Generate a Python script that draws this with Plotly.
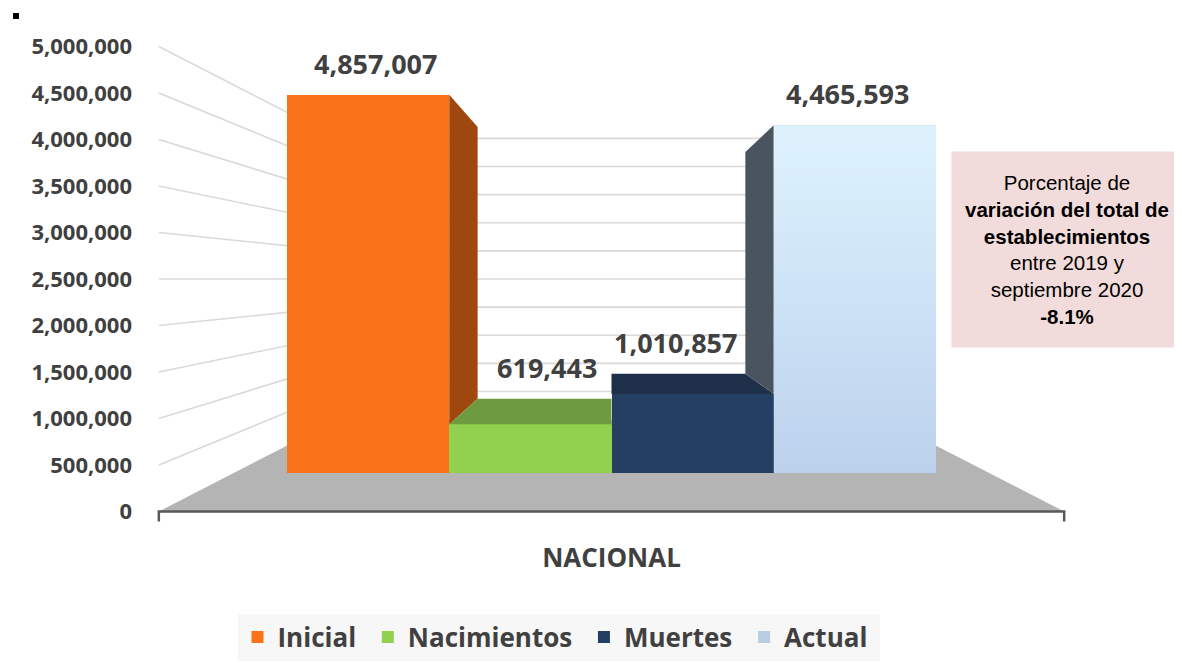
import plotly.graph_objects as go

# ---------------- data ----------------
categories = ["Inicial", "Nacimientos", "Muertes", "Actual"]
values = [4857007, 619443, 1010857, 4465593]
group_label = "NACIONAL"
y_ticks = [0, 500000, 1000000, 1500000, 2000000, 2500000, 3000000,
           3500000, 4000000, 4500000, 5000000]
box_lines = ["Porcentaje de", "<b>variación del total de</b>", "<b>establecimientos</b>",
             "entre 2019 y", "septiembre 2020", "<b>-8.1%</b>"]

# ---------------- style ----------------
front_colors = ["#fa7319", "#92d050", "#243f61", "#b8cce4"]
face_colors = ["#9f470f", "#6f9b40", "#1e3049", "#4a545e"]
actual_grad = [[0, "#bcd2ec"], [1, "#def2fe"]]
TXT = "#404040"
BOLDF = "Open Sans, sans-serif"
ARIAL = "Liberation Sans, Arial, sans-serif"

W, H = 1182, 663
OFF = 8                                        # page body margin
PL, PR, PT, PB = 150, 1182, 20, 540            # plot area in page px
X0_PX, X_PX_PER = 287.0, 162.25                # bar units -> px
Y_ZERO_PX, Y_PX_PER = 511.5, 93.0 / 1e6        # front (labelled) plane
B_ZERO_PX, B_PX_PER = 472.5, 77.76 / 1e6       # bar front faces plane

VX = 2.0          # vanishing point x (bar units)
VV = 2.5e6        # vanishing point height
BAR_DEPTH = 0.825
WALL_DEPTH = 0.605
FLOOR_HALF = 2.79
AXIS_TICK_PX = 10
LABEL_SHIFT = 11


def px_to_paper_x(px):
    return (px - PL) / (PR - PL)


def px_to_paper_y(py):
    return (PB - py) / (PB - PT)


def back(v, d):
    return VV + d * (v - VV)


def backx(x, d):
    return VX + d * (x - VX)


fig = go.Figure()

# front faces (real bars)
for i, (c, v) in enumerate(zip(categories, values)):
    fig.add_trace(go.Bar(
        x=[i + 0.5], y=[v], width=[1], name=c + "\u00a0", yaxis="y2",
        marker=dict(color=front_colors[i], line=dict(width=0)),
        hovertemplate=c + ": %{y:,}<extra></extra>",
    ))

# 3D faces derived from the values
n = len(values)
for i, v in enumerate(values):
    xl, xr = i, i + 1
    if v > VV:
        if xr <= VX:
            xe, nb = xr, values[i + 1] if i + 1 < n else 0
        else:
            xe, nb = xl, values[i - 1] if i > 0 else 0
        xs = [xe, backx(xe, BAR_DEPTH), backx(xe, BAR_DEPTH), xe, xe]
        ys = [v, back(v, BAR_DEPTH), back(nb, BAR_DEPTH), nb, v]
    else:
        xs = [xl, xr, backx(xr, BAR_DEPTH), backx(xl, BAR_DEPTH), xl]
        ys = [v, v, back(v, BAR_DEPTH), back(v, BAR_DEPTH), v]
    fig.add_trace(go.Scatter(
        x=xs, y=ys, yaxis="y2", mode="lines", fill="toself",
        fillcolor=face_colors[i], line=dict(width=0, color=face_colors[i]),
        showlegend=False, hoverinfo="skip",
    ))

# gradient on the "Actual" front face
ia = categories.index("Actual")
fig.add_trace(go.Scatter(
    x=[ia, ia + 1, ia + 1, ia, ia], y=[0, 0, values[ia], values[ia], 0],
    yaxis="y2", mode="lines", fill="toself", line=dict(width=0),
    fillgradient=dict(type="vertical", colorscale=actual_grad, start=0, stop=values[ia]),
    showlegend=False, hoverinfo="skip",
))

# data labels
for i, v in enumerate(values):
    xc = i + 0.5
    k = 0.97 if v > VV else 0.79
    top = max(v, back(v, BAR_DEPTH))
    fig.add_annotation(
        x=backx(xc, k), y=top, xref="x", yref="y2", yanchor="bottom",
        text=f"{v:,}", showarrow=False, yshift=LABEL_SHIFT,
        font=dict(family=BOLDF, size=27, color=TXT, weight=700),
    )

# floor, walls, grid, axis line (decorations)
shapes = []
fl, fr = VX - FLOOR_HALF, VX + FLOOR_HALF
bl, br = backx(fl, WALL_DEPTH), backx(fr, WALL_DEPTH)
b0 = back(0, WALL_DEPTH)
shapes.append(dict(type="path", xref="x", yref="y", layer="below",
                   path=f"M {fl},0 L {fr},0 L {br},{b0} L {bl},{b0} Z",
                   fillcolor="#b4b4b4", line=dict(width=0)))
for t in y_ticks[1:]:
    bt = back(t, WALL_DEPTH)
    shapes.append(dict(type="path", xref="x", yref="y", layer="below",
                       path=f"M {fl},{t} L {bl},{bt} L {br},{bt}",
                       line=dict(color="#d9d9d9", width=1.6)))
tick = AXIS_TICK_PX / Y_PX_PER
shapes.append(dict(type="path", xref="x", yref="y", layer="above",
                   path=f"M {fl},{-tick} L {fl},0 L {fr},0 L {fr},{-tick}",
                   line=dict(color="#595959", width=2.5)))
shapes.append(dict(type="rect", xref="paper", yref="paper",
                   x0=px_to_paper_x(13), x1=px_to_paper_x(19),
                   y0=px_to_paper_y(19), y1=px_to_paper_y(13),
                   fillcolor="black", line=dict(width=0)))

# info box
fig.add_annotation(
    xref="paper", yref="paper", x=px_to_paper_x(1067), y=px_to_paper_y(249.5),
    xanchor="center", yanchor="middle", width=230, height=195, borderpad=0,
    bgcolor="#f2dcdb", showarrow=False, align="center",
    text="<br>".join(box_lines),
    font=dict(family=ARIAL, size=20.5, color="black"),
)

yr = [-(PB - Y_ZERO_PX) / Y_PX_PER, (Y_ZERO_PX - PT) / Y_PX_PER]
y2r = [-(PB - B_ZERO_PX) / B_PX_PER, (B_ZERO_PX - PT) / B_PX_PER]
xr_ = [(PL - X0_PX) / X_PX_PER, (PR - X0_PX) / X_PX_PER]

fig.update_layout(
    width=W, height=H,
    margin=dict(l=PL - OFF, r=W - PR + OFF, t=PT - OFF, b=H - PB + OFF, pad=0),
    paper_bgcolor="white", plot_bgcolor="rgba(0,0,0,0)",
    barmode="overlay", bargap=0,
    shapes=shapes,
    xaxis=dict(range=xr_, tickvals=[VX], ticktext=[group_label],
               showgrid=False, zeroline=False, showline=False, ticks="",
               tickfont=dict(family=BOLDF, size=26, color=TXT, weight=700),
               fixedrange=True),
    yaxis=dict(range=yr, tickvals=y_ticks, tickformat=",", showgrid=False,
               zeroline=False, showline=False, ticks="", ticklabelstandoff=17,
               tickfont=dict(family=BOLDF, size=22, color=TXT, weight=700),
               fixedrange=True),
    yaxis2=dict(range=y2r, overlaying="y", visible=False, fixedrange=True),
    legend=dict(orientation="h", x=px_to_paper_x(558.5), xanchor="center",
                y=px_to_paper_y(637), yanchor="middle", bgcolor="#f7f7f7",
                font=dict(family=BOLDF, size=26, color=TXT, weight=700),
                itemclick=False, itemdoubleclick=False),
    showlegend=True,
)

fig.write_html("out.html")
